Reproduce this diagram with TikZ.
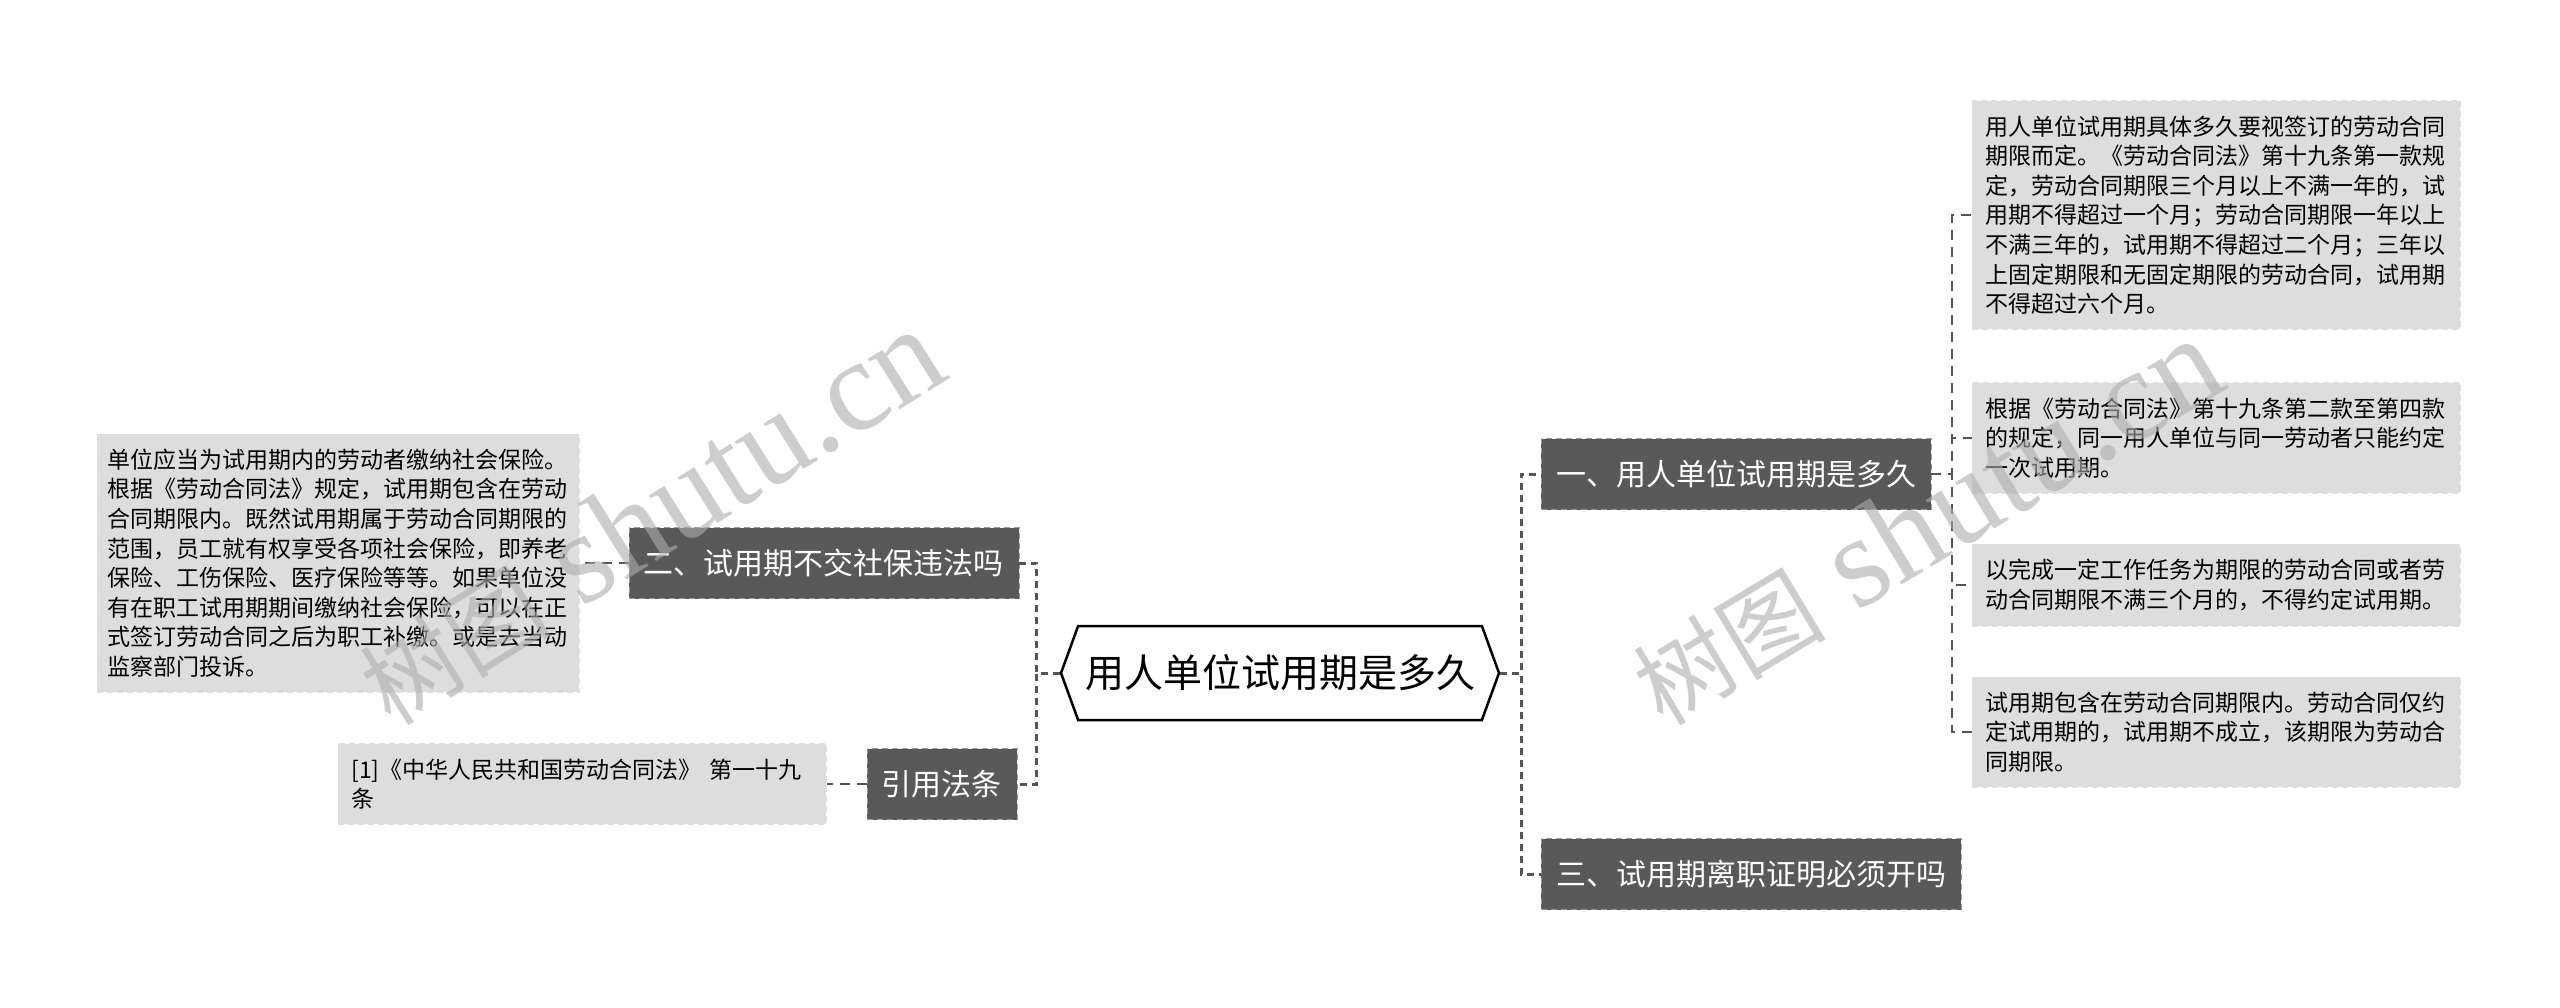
\documentclass[tikz,border=0pt]{standalone}
\usepackage{fontspec}
\setmainfont{Noto Sans CJK SC}
\newfontfamily\wmlatin{Liberation Serif}
\usepackage{tikz}
\usetikzlibrary{shapes.symbols,positioning}
\definecolor{branchgray}{HTML}{595959}
\definecolor{leafgray}{HTML}{DDDDDD}
\definecolor{linegray}{HTML}{555555}
\tikzstyle{root} = [signal, signal to=east and west, signal pointer angle=140,
    draw=black, line width=2.5pt, fill=white, minimum width=438pt,
    minimum height=94pt, inner sep=0pt, font=\fontsize{39pt}{46pt}\selectfont]
\tikzstyle{branch} = [rectangle, draw=black!40, dash pattern=on 6pt off 4pt,
    fill=branchgray, text=white, minimum height=71pt, inner xsep=15pt,
    font=\fontsize{30pt}{36pt}\selectfont]
\tikzstyle{leaf} = [rectangle, draw=black!12, dash pattern=on 6pt off 4pt,
    fill=leafgray, text=black, text width=462pt, align=left, inner xsep=13pt,
    inner ysep=15pt, font=\fontsize{23pt}{29.6pt}\selectfont]
\tikzstyle{trunk} = [draw=linegray, line width=3pt, dash pattern=on 7pt off 5pt]
\tikzstyle{twig} = [draw=linegray, line width=2pt, dash pattern=on 10pt off 7pt]
\tikzstyle{wmark} = [text=black!32, opacity=0.6, inner sep=0pt,
    font=\wmlatin\fontsize{130pt}{135pt}\selectfont]

\begin{document}
\begin{tikzpicture}[x=1pt, y=-1pt]
   \fill [white] (0,0) rectangle (2560,1008);
   \useasboundingbox (0,0) rectangle (2560,1008);
   % Place nodes
    \node [root] (root) at (1280,673) {用人单位试用期是多久};
    \node [branch, anchor=west] (one) at (1541,474) {一、用人单位试用期是多久};
    \node [branch, anchor=west] (three) at (1541,874) {三、试用期离职证明必须开吗};
    \node [branch, anchor=east] (two) at (1019,563) {二、试用期不交社保违法吗};
    \node [branch, anchor=east] (cite) at (1017,784) {引用法条};
    \node [leaf, anchor=west] (term) at (1972,215) {用人单位试用期具体多久要视签订的劳动合同\\
      期限而定。《劳动合同法》第十九条第一款规\\
      定，劳动合同期限三个月以上不满一年的，试\\
      用期不得超过一个月；劳动合同期限一年以上\\
      不满三年的，试用期不得超过二个月；三年以\\
      上固定期限和无固定期限的劳动合同，试用期\\
      不得超过六个月。};
    \node [leaf, anchor=west] (once) at (1972,438) {根据《劳动合同法》第十九条第二款至第四款\\
      的规定，同一用人单位与同一劳动者只能约定\\
      一次试用期。};
    \node [leaf, anchor=west] (task) at (1972,585) {以完成一定工作任务为期限的劳动合同或者劳\\
      动合同期限不满三个月的，不得约定试用期。};
    \node [leaf, anchor=west] (within) at (1972,732) {试用期包含在劳动合同期限内。劳动合同仅约\\
      定试用期的，试用期不成立，该期限为劳动合\\
      同期限。};
    \node [leaf, inner xsep=10pt, left=49pt of two] (social) {单位应当为试用期内的劳动者缴纳社会保险。\\
      根据《劳动合同法》规定，试用期包含在劳动\\
      合同期限内。既然试用期属于劳动合同期限的\\
      范围，员工就有权享受各项社会保险，即养老\\
      保险、工伤保险、医疗保险等等。如果单位没\\
      有在职工试用期期间缴纳社会保险，可以在正\\
      式签订劳动合同之后为职工补缴。或是去当动\\
      监察部门投诉。};
    \node [leaf, left=40pt of cite] (law) {[1]《中华人民共和国劳动合同法》 第一十九\\
      条};
   % Draw edges
    \path [trunk] (root.east) -- ++(21,0) |- (one.west);
    \path [trunk] (root.east) -- ++(21,0) |- (three.west);
    \path [trunk] (root.west) -- ++(-23,0) |- (two.east);
    \path [trunk] (root.west) -- ++(-23,0) |- (cite.east);
    \path [twig] (one.east) -- ++(21,0) |- (term.west);
    \path [twig] (one.east) -- ++(21,0) |- (once.west);
    \path [twig] (one.east) -- ++(21,0) |- (task.west);
    \path [twig] (one.east) -- ++(21,0) |- (within.west);
    \path [twig] (two.west) -- (social.east);
    \path [twig] (cite.west) -- (law.east);
   % Watermarks
    \node [wmark, rotate=32] (wmleft) at (650,517) {{\rmfamily\fontsize{96pt}{100pt}\selectfont 树图} shutu.cn};
    \node [wmark, rotate=31] (wmright) at (1926,522) {{\rmfamily\fontsize{96pt}{100pt}\selectfont 树图} shutu.cn};
\end{tikzpicture}
\end{document}
